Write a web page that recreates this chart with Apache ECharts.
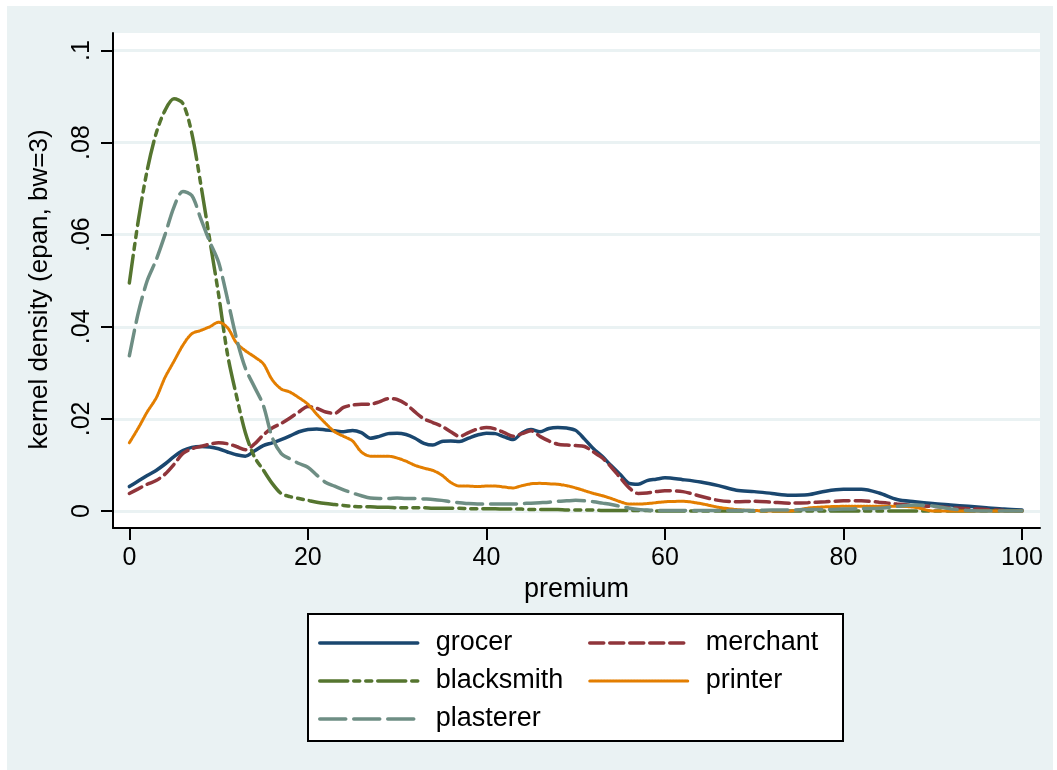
<!DOCTYPE html>
<html><head><meta charset="utf-8">
<script src="https://cdn.jsdelivr.net/npm/echarts@6/dist/echarts.min.js"></script>
<style>html,body{margin:0;padding:0;background:#fff}#c{width:1057px;height:770px}</style>
</head><body><div id="c"></div>
<script>
// premium grid
const xs = [0,1,2,3,4,5,6,7,8,9,10,11,12,13,14,15,16,17,18,19,20,21,22,23,24,25,26,27,28,29,30,
  31,32,33,34,35,36,37,38,39,40,41,42,43,44,45,46,47,48,49,50,51,52,53,54,55,56,57,58,59,60,
  62,64,66,68,70,72,74,76,78,80,82,84,86,88,90,92,94,96,98,100];

const grocer = [.0053,.0065,.0077,.0088,.0102,.0118,.0131,.0138,.0140,.0139,.0135,.0128,.0122,.0119,.0130,.0142,.0148,.0155,.0163,.0172,.0177,
  .0178,.0176,.0174,.0172,.0175,.0170,.0158,.0162,.0168,.0169,.0166,.0158,.0147,.0143,.0151,.0152,.0151,.0158,.0165,.0169,
  .0168,.0161,.0155,.0170,.0177,.0172,.0179,.0181,.0180,.0175,.0156,.0135,.0118,.0098,.0079,.0060,.0058,.0066,.0069,.0072,
  .0068,.0063,.0055,.0045,.0042,.0038,.0034,.0035,.0043,.0047,.0047,.0039,.0025,.0020,.0016,.0013,.0010,.0007,.0004,.0002];

const merchant = [.0038,.0048,.0058,.0066,.0080,.0101,.0125,.0135,.0140,.0145,.0148,.0146,.0140,.0133,.0145,.0165,.0180,.0190,.0202,.0215,.0227,
  .0223,.0215,.0212,.0225,.0230,.0232,.0232,.0237,.0244,.0242,.0232,.0215,.0200,.0192,.0184,.0172,.0162,.0170,.0178,.0181,
  .0178,.0170,.0162,.0168,.0174,.0162,.0152,.0145,.0143,.0142,.0140,.0128,.0115,.0095,.0072,.0050,.0038,.0039,.0042,.0044,
  .0042,.0032,.0023,.0020,.0021,.0019,.0017,.0018,.0020,.0022,.0022,.0019,.0015,.0012,.0010,.0007,.0005,.0003,.0001,0];

const blacksmith = [.0495,.0630,.0740,.0820,.0870,.0895,.0885,.0820,.0710,.0590,.0470,.0340,.0250,.0170,.0118,.0089,.0060,.0038,.0031,.0027,.0023,
  .0019,.0016,.0014,.0012,.0010,.0009,.0009,.0008,.0008,.0007,.0007,.0007,.0007,.0006,.0006,.0006,.0006,.0005,.0005,.0005,
  .0005,.0004,.0004,.0004,.0003,.0003,.0003,.0003,.0002,.0002,.0002,.0002,.0001,.0001,.0001,.0001,.0001,.0001,0,0,
  0,0,0,0,0,0,0,0,0,0,0,0,0,0,0,0,0,0,0,0];

const printer = [.0148,.0180,.0215,.0245,.0290,.0325,.0360,.0385,.0392,.0400,.0410,.0398,.0365,.0348,.0335,.0320,.0285,.0265,.0258,.0246,.0232,
  .0210,.0190,.0172,.0162,.0152,.0128,.0119,.0119,.0119,.0115,.0108,.0099,.0093,.0088,.0078,.0062,.0054,.0054,.0053,.0054,
  .0054,.0052,.0050,.0055,.0059,.0060,.0059,.0058,.0055,.0050,.0044,.0038,.0033,.0027,.0020,.0015,.0015,.0016,.0018,.0020,
  .0021,.0016,.0008,.0003,.0001,0,0,.0006,.0009,.0010,.0010,.0010,.0010,.0008,0,0,0,0,0,0];

const plasterer = [.0337,.0430,.0500,.0545,.0600,.0660,.0694,.0685,.0635,.0585,.0540,.0460,.0375,.0310,.0270,.0230,.0160,.0125,.0113,.0103,.0095,
  .0078,.0062,.0054,.0046,.0039,.0033,.0028,.0027,.0027,.0028,.0027,.0027,.0026,.0025,.0023,.0020,.0018,.0016,.0015,.0015,
  .0015,.0015,.0015,.0016,.0017,.0018,.0019,.0021,.0022,.0023,.0022,.0020,.0017,.0014,.0010,.0006,.0003,.0002,.0001,.0001,
  .0001,.0001,.0001,.0001,.0001,.0002,.0002,.0003,.0003,.0004,.0005,.0006,.0010,.0013,.0011,.0005,.0001,0,0,0];

const xTicks = [0,20,40,60,80,100];
const yTicks = [0,0.02,0.04,0.06,0.08,0.1];
const xTitle = 'premium';
const yTitle = 'kernel density (epan, bw=3)';

const FONT = '"Liberation Sans", Arial, Helvetica, sans-serif';
const pairs = arr => xs.map((x, i) => [x, arr[i]]);

const STY = {
  grocer:     { color: '#1a476f', width: 3.5, type: 'solid' },
  merchant:   { color: '#90353b', width: 3.5, type: [14, 6] },
  blacksmith: { color: '#55752f', width: 3.5, type: [28, 6, 6, 6, 6, 6] },
  printer:    { color: '#e37e00', width: 3,   type: [2, 1] },
  plasterer:  { color: '#6e8e84', width: 3.5, type: [26, 8] }
};

const mk = (name, arr) => ({
  name, type: 'line', data: pairs(arr), symbol: 'none', smooth: 0.3,
  lineStyle: Object.assign({ cap: 'round' }, STY[name]), itemStyle: { color: STY[name].color },
  emphasis: { disabled: true }
});

const series = [
  mk('grocer', grocer),
  mk('merchant', merchant),
  mk('blacksmith', blacksmith),
  mk('printer', printer),
  mk('plasterer', plasterer)
];

const legItem = name => ({ name, itemStyle: { opacity: 0 }, lineStyle: Object.assign({}, STY[name]) });

const legendCommon = {
  orient: 'vertical', itemWidth: 98, itemHeight: 14, itemGap: 10, padding: 0,
  itemStyle: { opacity: 0 },
  textStyle: { fontFamily: FONT, fontSize: 27, color: '#000', padding: [0, 0, 0, 13], lineHeight: 28 },
  selectedMode: false
};

const option = {
  backgroundColor: '#ffffff',
  animation: false,
  graphic: [
    { type: 'rect', z: -100, silent: true, shape: { x: 7, y: 6, width: 1046, height: 764 }, style: { fill: '#eaf2f3' } },
    { type: 'rect', z: 1, silent: true, shape: { x: 308, y: 614, width: 535, height: 127 }, style: { fill: '#ffffff', stroke: '#000', lineWidth: 2 } }
  ],
  grid: { left: 113, right: 17, top: 33, bottom: 242, show: true, backgroundColor: '#ffffff', borderWidth: 0, z: 0 },
  legend: [
    Object.assign({}, legendCommon, { left: 318, top: 629, data: ['grocer', 'blacksmith', 'plasterer'].map(legItem) }),
    Object.assign({}, legendCommon, { left: 588, top: 629, data: ['merchant', 'printer'].map(legItem) })
  ],
  xAxis: {
    type: 'value', min: -1.83, max: 102.02,
    axisLine: { show: true, onZero: false, lineStyle: { color: '#000', width: 2 } },
    axisTick: { show: true, customValues: xTicks, length: 12, lineStyle: { color: '#000', width: 2 } },
    axisLabel: { customValues: xTicks, fontFamily: FONT, fontSize: 25, color: '#000', margin: 18 },
    splitLine: { show: false },
    name: xTitle, nameLocation: 'middle', nameGap: 44,
    nameTextStyle: { fontFamily: FONT, fontSize: 27, color: '#000' }
  },
  yAxis: {
    type: 'value', min: -0.0037, max: 0.1038,
    axisLine: { show: true, onZero: false, lineStyle: { color: '#000', width: 2 } },
    axisTick: { show: true, customValues: yTicks, length: 12, lineStyle: { color: '#000', width: 2 } },
    axisLabel: {
      customValues: yTicks, rotate: 90, fontFamily: FONT, fontSize: 25, color: '#000', margin: 18,
      formatter: v => (v === 0 ? '0' : String(+v.toFixed(4)).replace(/^0/, ''))
    },
    splitLine: { show: true, lineStyle: { color: '#eaf2f3', width: 3 } },
    name: yTitle, nameLocation: 'middle', nameGap: 60,
    nameTextStyle: { fontFamily: FONT, fontSize: 26, color: '#000', padding: [0, 18, 0, 0] }
  },
  series
};

const chart = echarts.init(document.getElementById('c'), null, { renderer: 'canvas' });
chart.setOption(option);
</script>
</body></html>
